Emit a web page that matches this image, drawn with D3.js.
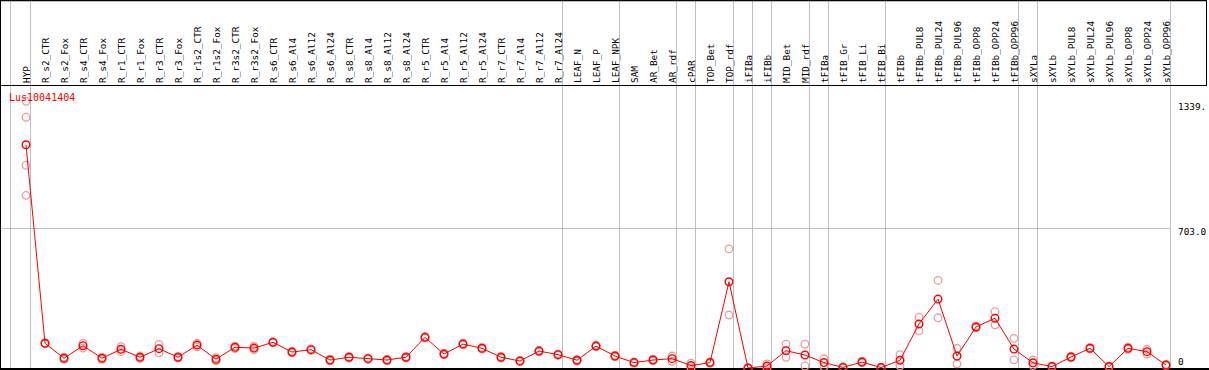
<!DOCTYPE html>
<html>
<head>
<meta charset="utf-8">
<script src="https://cdn.jsdelivr.net/npm/d3@7"></script>
<style>
  body { margin: 0; background: white; }
  svg text { font-family: "DejaVu Sans Mono", monospace; }
</style>
</head>
<body>
<div id="chart"></div>
<script>
// expression profile of one gene across samples, mean line + replicates

const gene = "Lus10041404";

const samples = ["HYP","R_s2_CTR","R_s2_Fox","R_s4_CTR","R_s4_Fox","R_r1_CTR","R_r1_Fox","R_r3_CTR","R_r3_Fox",
  "R_r1s2_CTR","R_r1s2_Fox","R_r3s2_CTR","R_r3s2_Fox","R_s6_CTR","R_s6_Al4","R_s6_Al12","R_s6_Al24",
  "R_s8_CTR","R_s8_Al4","R_s8_Al12","R_s8_Al24","R_r5_CTR","R_r5_Al4","R_r5_Al12","R_r5_Al24",
  "R_r7_CTR","R_r7_Al4","R_r7_Al12","R_r7_Al24","LEAF_N","LEAF_P","LEAF_NPK","SAM","AR_Bet","AR_rdf",
  "cPAR","TOP_Bet","TOP_rdf","iFIBa","iFIBb","MID_Bet","MID_rdf","tFIBa","tFIB_Gr","tFIB_Li","tFIB_Bi",
  "tFIBb","tFIBb_PUL8","tFIBb_PUL24","tFIBb_PUL96","tFIBb_OPP8","tFIBb_OPP24","tFIBb_OPP96",
  "sXYLa","sXYLb","sXYLb_PUL8","sXYLb_PUL24","sXYLb_PUL96","sXYLb_OPP8","sXYLb_OPP24","sXYLb_OPP96"];

const means = [1121,124,49,112,49,94,54,97,54,115,44,104,100,129,80,92,40,54,47,40,54,154,70,120,99,
  54,35,85,67,39,110,60,27,40,47,12,27,433,0,10,87,65,27,3,30,2,39,221,346,60,206,250,95,
  26,7,55,99,7,99,82,15];

const replicates = [[1339,1259,1018,867],[126,122],[54,44],[124,100],[54,44],[107,82],[60,48],[118,76],
  [58,50],[124,106],[52,36],[110,98],[108,92],[132,126],[84,76],[96,88],[44,36],[58,50],[50,44],
  [44,36],[58,50],[158,150],[74,66],[124,116],[103,95],[58,50],[38,32],[89,81],[71,63],[43,35],
  [114,106],[64,56],[31,23],[44,36],[60,34],[24,0],[31,23],[598,266],[0,0],[20,0],[120,54],[120,10],
  [47,7],[6,0],[34,26],[4,0],[67,11],[255,187],[440,252],[99,21],[210,202],[283,217],[149,41],
  [40,12],[10,4],[59,51],[103,95],[10,4],[104,94],[94,70],[18,12]];

// last sample of each group (a gray line is drawn after it)
const groupEnds = ["HYP","R_r7_Al24","LEAF_NPK","AR_rdf","cPAR","TOP_rdf","iFIBa","iFIBb","MID_rdf",
  "tFIBa","tFIB_Bi","tFIBb_OPP96","sXYLa","sXYLb_OPP96"];

const yTicks = [0, 703, 1339];
const yTickText = ["0", "703.0", "1339."];

const width = 1209, height = 370;
const headerY = 85, baseY = 369;

function init(){
    const svg = d3.select("#chart").append("svg")
        .attr("width", width)
        .attr("height", height);

    const x = d3.scalePoint().domain(samples).range([26, 1166]);
    const y = d3.scaleLinear().domain([0, 1406]).range([368, 88]);

    // gray group separators
    const sepX = [x(samples[0]) - 15.5].concat(groupEnds.map(s => x(s) + 4.5));
    svg.selectAll()
        .data(sepX)
        .enter()
        .append("line")
        .attr("x1", d => d).attr("x2", d => d)
        .attr("y1", 0).attr("y2", baseY)
        .attr("stroke", "#c0c0c0")
        .attr("stroke-width", 1);

    // middle gridline
    svg.append("line")
        .attr("x1", 0).attr("x2", x(samples[samples.length-1]) + 4.5)
        .attr("y1", Math.round(y(703)) + 0.5).attr("y2", Math.round(y(703)) + 0.5)
        .attr("stroke", "#c0c0c0");

    // frame
    svg.append("line").attr("x1", 0).attr("x2", 1207).attr("y1", 0.5).attr("y2", 0.5).attr("stroke", "black").attr("stroke-width", 1.5);
    svg.append("line").attr("x1", 0).attr("x2", 1207).attr("y1", headerY + 0.5).attr("y2", headerY + 0.5).attr("stroke", "black");
    svg.append("line").attr("x1", 0.5).attr("x2", 0.5).attr("y1", 0).attr("y2", height).attr("stroke", "black");
    svg.append("line").attr("x1", 1206.5).attr("x2", 1206.5).attr("y1", 0).attr("y2", headerY).attr("stroke", "black");
    svg.append("line").attr("x1", 0).attr("x2", width).attr("y1", baseY).attr("y2", baseY).attr("stroke", "black").attr("stroke-width", 2);

    // column labels, rotated
    svg.selectAll()
        .data(samples)
        .enter()
        .append("text")
        .attr("transform", d => "translate(" + (x(d) + 3.8) + "," + (headerY - 2) + ") rotate(-90)")
        .attr("font-size", "9.4px")
        .attr("fill", "black")
        .text(d => d);

    // y labels on the right
    const dys = [-6, 4, 5.5];
    svg.selectAll()
        .data(yTicks)
        .enter()
        .append("text")
        .attr("x", 1178)
        .attr("y", (d, i) => y(d) + dys[i])
        .attr("dy", "0.32em")
        .attr("font-size", "9.4px")
        .attr("fill", "black")
        .text((d, i) => yTickText[i]);

    // replicate circles
    const reps = [];
    replicates.forEach((r, i) => r.forEach(v => reps.push({s: samples[i], v: v})));
    svg.selectAll()
        .data(reps)
        .enter()
        .append("circle")
        .attr("cx", d => x(d.s))
        .attr("cy", d => y(d.v))
        .attr("r", 3.8)
        .attr("fill", "none")
        .attr("stroke", "#ee9c9c")
        .attr("stroke-width", 1.3);

    // mean line
    const line = d3.line()
        .x((d, i) => x(samples[i]))
        .y(d => y(d));
    svg.append("path")
        .datum(means)
        .attr("d", line)
        .attr("fill", "none")
        .attr("stroke", "red")
        .attr("stroke-width", 1);

    svg.selectAll()
        .data(means)
        .enter()
        .append("circle")
        .attr("cx", (d, i) => x(samples[i]))
        .attr("cy", d => y(d))
        .attr("r", 3.8)
        .attr("fill", "none")
        .attr("stroke", "red")
        .attr("stroke-width", 1.4);

    svg.append("text")
        .attr("x", 9)
        .attr("y", 101)
        .attr("font-size", "10px")
        .attr("fill", "red")
        .text(gene);
}

init();
</script>
</body>
</html>
